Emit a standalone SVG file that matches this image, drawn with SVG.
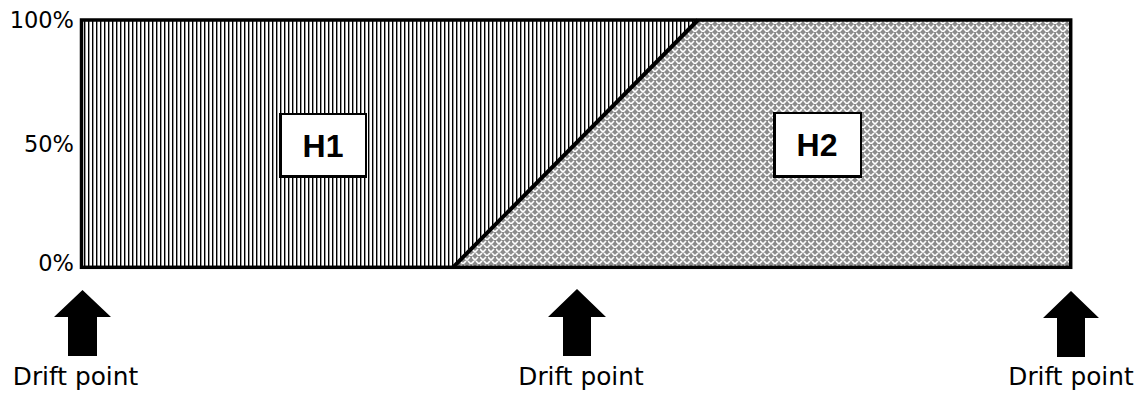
<svg xmlns="http://www.w3.org/2000/svg" width="1144" height="394" viewBox="0 0 1144 394">
<style>
.ax{font-family:"DejaVu Sans",Verdana,sans-serif;font-size:22.5px;fill:#000;text-anchor:end}
.dp{font-family:"DejaVu Sans",Verdana,sans-serif;font-size:24.8px;fill:#000;text-anchor:middle}
.lbl{font-family:"Liberation Sans",Arial,sans-serif;font-weight:bold;font-size:32px;fill:#000;text-anchor:middle}
.arrow{fill:#000}
</style>
<defs>
<pattern id="vstripe" patternUnits="userSpaceOnUse" width="4" height="4">
<rect width="4" height="4" fill="#fff"/>
<rect x="0" y="0" width="1.4" height="4" fill="#000"/>
</pattern>
<pattern id="weave" patternUnits="userSpaceOnUse" width="8" height="8">
<rect width="8" height="8" fill="#8c8c8c"/>
<path d="M0,1 L3,4 L6,1 M4,5 L7,8 L10,5 M-4,5 L-1,8 L2,5" fill="none" stroke="#fff" stroke-width="1.6"/>
</pattern>
</defs>
<g id="axis-labels">
<text class="ax" x="74" y="28">100%</text>
<text class="ax" x="74" y="152">50%</text>
<text class="ax" x="74" y="271">0%</text>
</g>
<g id="chart">
<polygon id="region-h1" points="81.5,20 698,20 453,267.3 81.5,267.3" fill="url(#vstripe)"/>
<polygon id="region-h2" points="698,20 1070.7,20 1070.7,267.3 453,267.3" fill="url(#weave)"/>
<line x1="453" y1="267.3" x2="698" y2="20" stroke="#000" stroke-width="4"/>
<rect x="81.5" y="20" width="989.2" height="247.3" fill="none" stroke="#000" stroke-width="3.5"/>
</g>
<g id="node-h1">
<rect x="279" y="113" width="88" height="65" fill="#000"/>
<rect x="282" y="115" width="83" height="60" fill="#fff"/>
<text class="lbl" x="323" y="157">H1</text>
</g>
<g id="node-h2">
<rect x="773" y="112" width="89" height="66" fill="#000"/>
<rect x="776" y="114" width="84" height="61" fill="#fff"/>
<text class="lbl" x="817" y="156">H2</text>
</g>
<g id="arrows">
<polygon class="arrow" points="82.5,290 111,317 97,317 97,356 68,356 68,317 54,317"/>
<polygon class="arrow" points="577,289 606,317 591,317 591,356 563,356 563,317 548,317"/>
<polygon class="arrow" points="1071,291 1099,318 1085,318 1085,357 1057,357 1057,318 1043,318"/>
</g>
<g id="drift-labels">
<text class="dp" x="75.5" y="385">Drift point</text>
<text class="dp" x="581" y="385">Drift point</text>
<text class="dp" x="1071" y="385">Drift point</text>
</g>
</svg>
